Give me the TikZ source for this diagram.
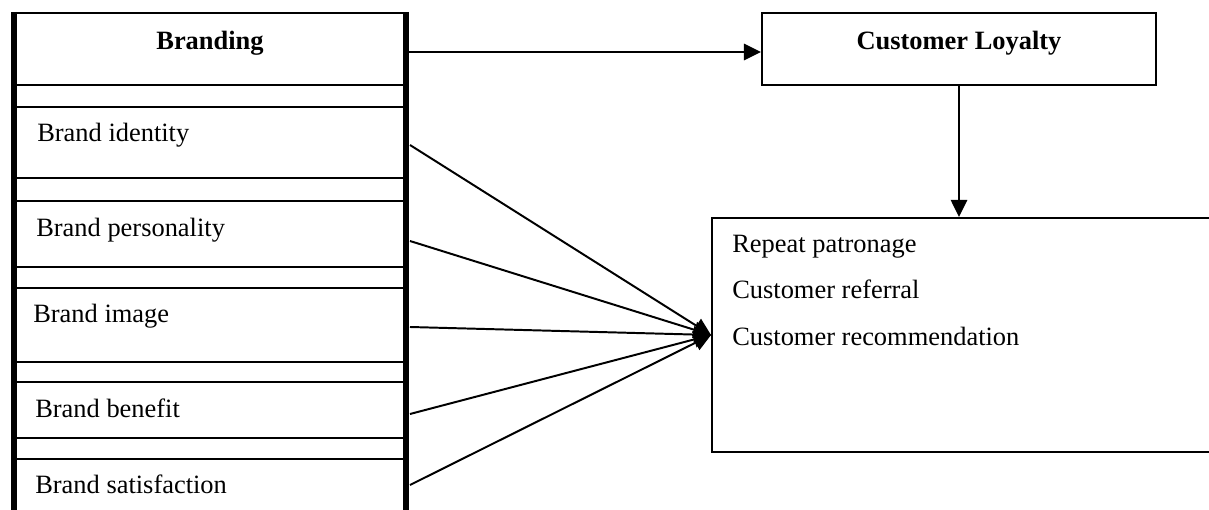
\documentclass[tikz,border=0pt]{standalone}
\usepackage{fontspec}
\setmainfont{Liberation Serif}
\usepackage{xcolor}
\usepackage{tikz}
\usetikzlibrary{calc,arrows.meta}
\definecolor{ink}{HTML}{000000}
\def\u{0.025cm}
\tikzset{
  row/.style={draw=ink, line width=1.4pt, minimum width=392*\u, inner sep=0pt},
  box/.style={draw=ink, line width=1.4pt, inner sep=0pt},
  side/.style={draw=ink, line width=4pt},
  link/.style={draw=ink, line width=1.4pt, -{Triangle[length=4.3mm,width=4.1mm]}},
  lab/.style={text=ink, inner sep=0pt, anchor=base west, font=\fontsize{18.8}{22}\selectfont},
  labb/.style={text=ink, inner sep=0pt, anchor=base, font=\fontsize{18.8}{22}\selectfont\bfseries},
}
\begin{document}
\begin{tikzpicture}[x=0.025cm, y=-0.025cm]
  \useasboundingbox (0,0) rectangle (1209,510);

  % left column
  \foreach \n/\t/\b in {brand/13/85, ident/107/178, pers/201/267, img/288/362, ben/382/438, sat/459/512}
    \node[row, minimum height={(\b-\t)*\u}] (\n) at (210,{(\t+\b)/2}) {};
  \draw[side] (14,12) -- (14,512);
  \draw[side] (406,12) -- (406,512);

  \node[labb] (brandlab) at (210,50) {Branding};
  \node[lab] (identlab) at (37,142) {Brand identity};
  \node[lab] (perslab) at (36,237) {Brand personality};
  \node[lab] (imglab) at (33,323) {Brand image};
  \node[lab] (benlab) at (35,417) {Brand benefit};
  \node[lab] (satlab) at (35,493) {Brand satisfaction};

  % right side
  \node[box, minimum width=394*\u, minimum height=72*\u] (loyalty) at (959,49) {};
  \node[labb] (loyaltylab) at (959,50) {Customer Loyalty};
  \node[box, minimum width=505*\u, minimum height=234*\u] (outcome) at (964.5,335) {};
  \node[lab] (repeat) at (732,253) {Repeat patronage};
  \node[lab] (referral) at (732,299) {Customer referral};
  \node[lab] (recommend) at (732,346) {Customer recommendation};
  \coordinate (hub) at (outcome.west);

  \draw[link] ([yshift=-3*\u]brand.east) -- ([yshift=-3*\u]loyalty.west);
  \draw[link] (loyalty.south) -- (loyalty.south |- outcome.north);
  \foreach \n/\y in {ident/145, pers/241, img/327, ben/414, sat/485}
    \draw[link] ($(\n.east |- 0,\y)+(3,0)$) -- (hub);
\end{tikzpicture}
\end{document}
